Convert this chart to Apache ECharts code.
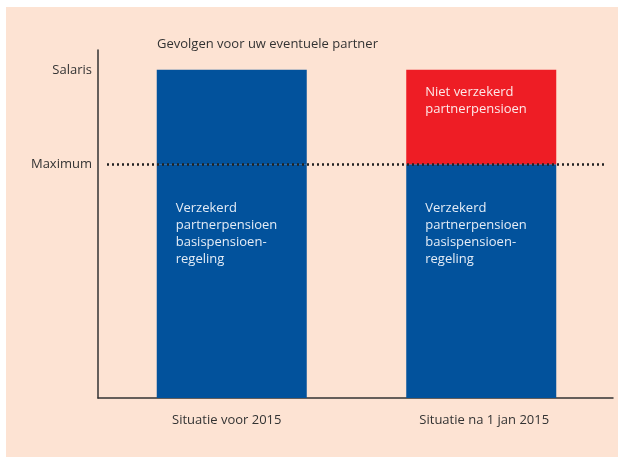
<!DOCTYPE html>
<html>
<head>
<meta charset="utf-8">
<script src="https://cdn.jsdelivr.net/npm/echarts@6/dist/echarts.min.js"></script>
<style>
  html, body { margin:0; padding:0; background:#fff; }
  #chart { position:absolute; left:6px; top:7px; width:612px; height:450px; background:#fde3d3; }
</style>
</head>
<body>
<div id="chart"></div>
<script>
  // categories + stacked segment values (0 = base, 100 = top of the y axis)
  var categories = ['Situatie voor 2015', 'Situatie na 1 jan 2015'];
  var maximum = 67.2;            // "Maximum" level (dotted line)
  var salaris = 94.3;            // "Salaris" level
  var basisValues = [67.2, 67.2];          // verzekerd, up to the maximum
  var bovenValues = [27.1, 27.1];          // part above the maximum
  var bovenColors = ['#02529c', '#ee1d25'];
  var yLabels = { 67.2: 'Maximum', 94.3: 'Salaris' };

  var txt = '#333';
  var font = 'Open Sans';

  var chart = echarts.init(document.getElementById('chart'));

  var option = {
    animation: false,
    textStyle: { fontFamily: font },
    title: {
      text: 'Gevolgen voor uw eventuele partner',
      left: 151, top: 29, padding: 0,
      textStyle: { fontSize: 13, fontWeight: 'normal', color: txt, fontFamily: font, lineHeight: 16 }
    },
    grid: [
      { left: 92, right: 5, top: 43, bottom: 59 },
      { left: 101, width: 499, top: 43, bottom: 59 }
    ],
    xAxis: [{
      type: 'category', gridIndex: 0, data: categories,
      axisLine: { lineStyle: { color: txt, width: 1.5 } },
      axisTick: { show: false },
      axisLabel: { color: txt, fontSize: 13, margin: 16 }
    }, {
      type: 'category', gridIndex: 1, data: categories, show: false
    }],
    yAxis: [{
      type: 'value', gridIndex: 0, min: 0, max: 100,
      splitLine: { show: false },
      axisLine: { show: true, lineStyle: { color: txt, width: 1.5 } },
      axisTick: { show: false },
      axisLabel: {
        customValues: [maximum, salaris],
        color: txt, fontSize: 13, margin: 6,
        formatter: function (v) { return yLabels[v] || ''; }
      }
    }, {
      type: 'value', gridIndex: 1, min: 0, max: 100, show: false
    }],
    series: [{
      name: 'Verzekerd',
      type: 'bar', stack: 'p', xAxisIndex: 1, yAxisIndex: 1,
      barWidth: 150,
      data: basisValues,
      itemStyle: { color: '#02529c' },
      label: {
        show: true, position: [19, 36],
        formatter: 'Verzekerd\npartnerpensioen\nbasispensioen-\nregeling',
        color: '#e4ecf6', fontSize: 13, lineHeight: 17, fontFamily: font
      },
      markLine: {
        silent: true, symbol: 'none',
        lineStyle: { color: '#222', width: 2.5, type: [2, 3] },
        label: { show: false },
        data: [{ yAxis: maximum }]
      }
    }, {
      name: 'Boven maximum',
      type: 'bar', stack: 'p', xAxisIndex: 1, yAxisIndex: 1,
      barWidth: 150,
      data: bovenValues.map(function (v, i) {
        return {
          value: v,
          itemStyle: { color: bovenColors[i] },
          label: { show: i === 1 }
        };
      }),
      label: {
        position: [19, 14],
        formatter: 'Niet verzekerd\npartnerpensioen',
        color: '#fde9e9', fontSize: 13, lineHeight: 17, fontFamily: font
      }
    }]
  };

  chart.setOption(option);
</script>
</body>
</html>
